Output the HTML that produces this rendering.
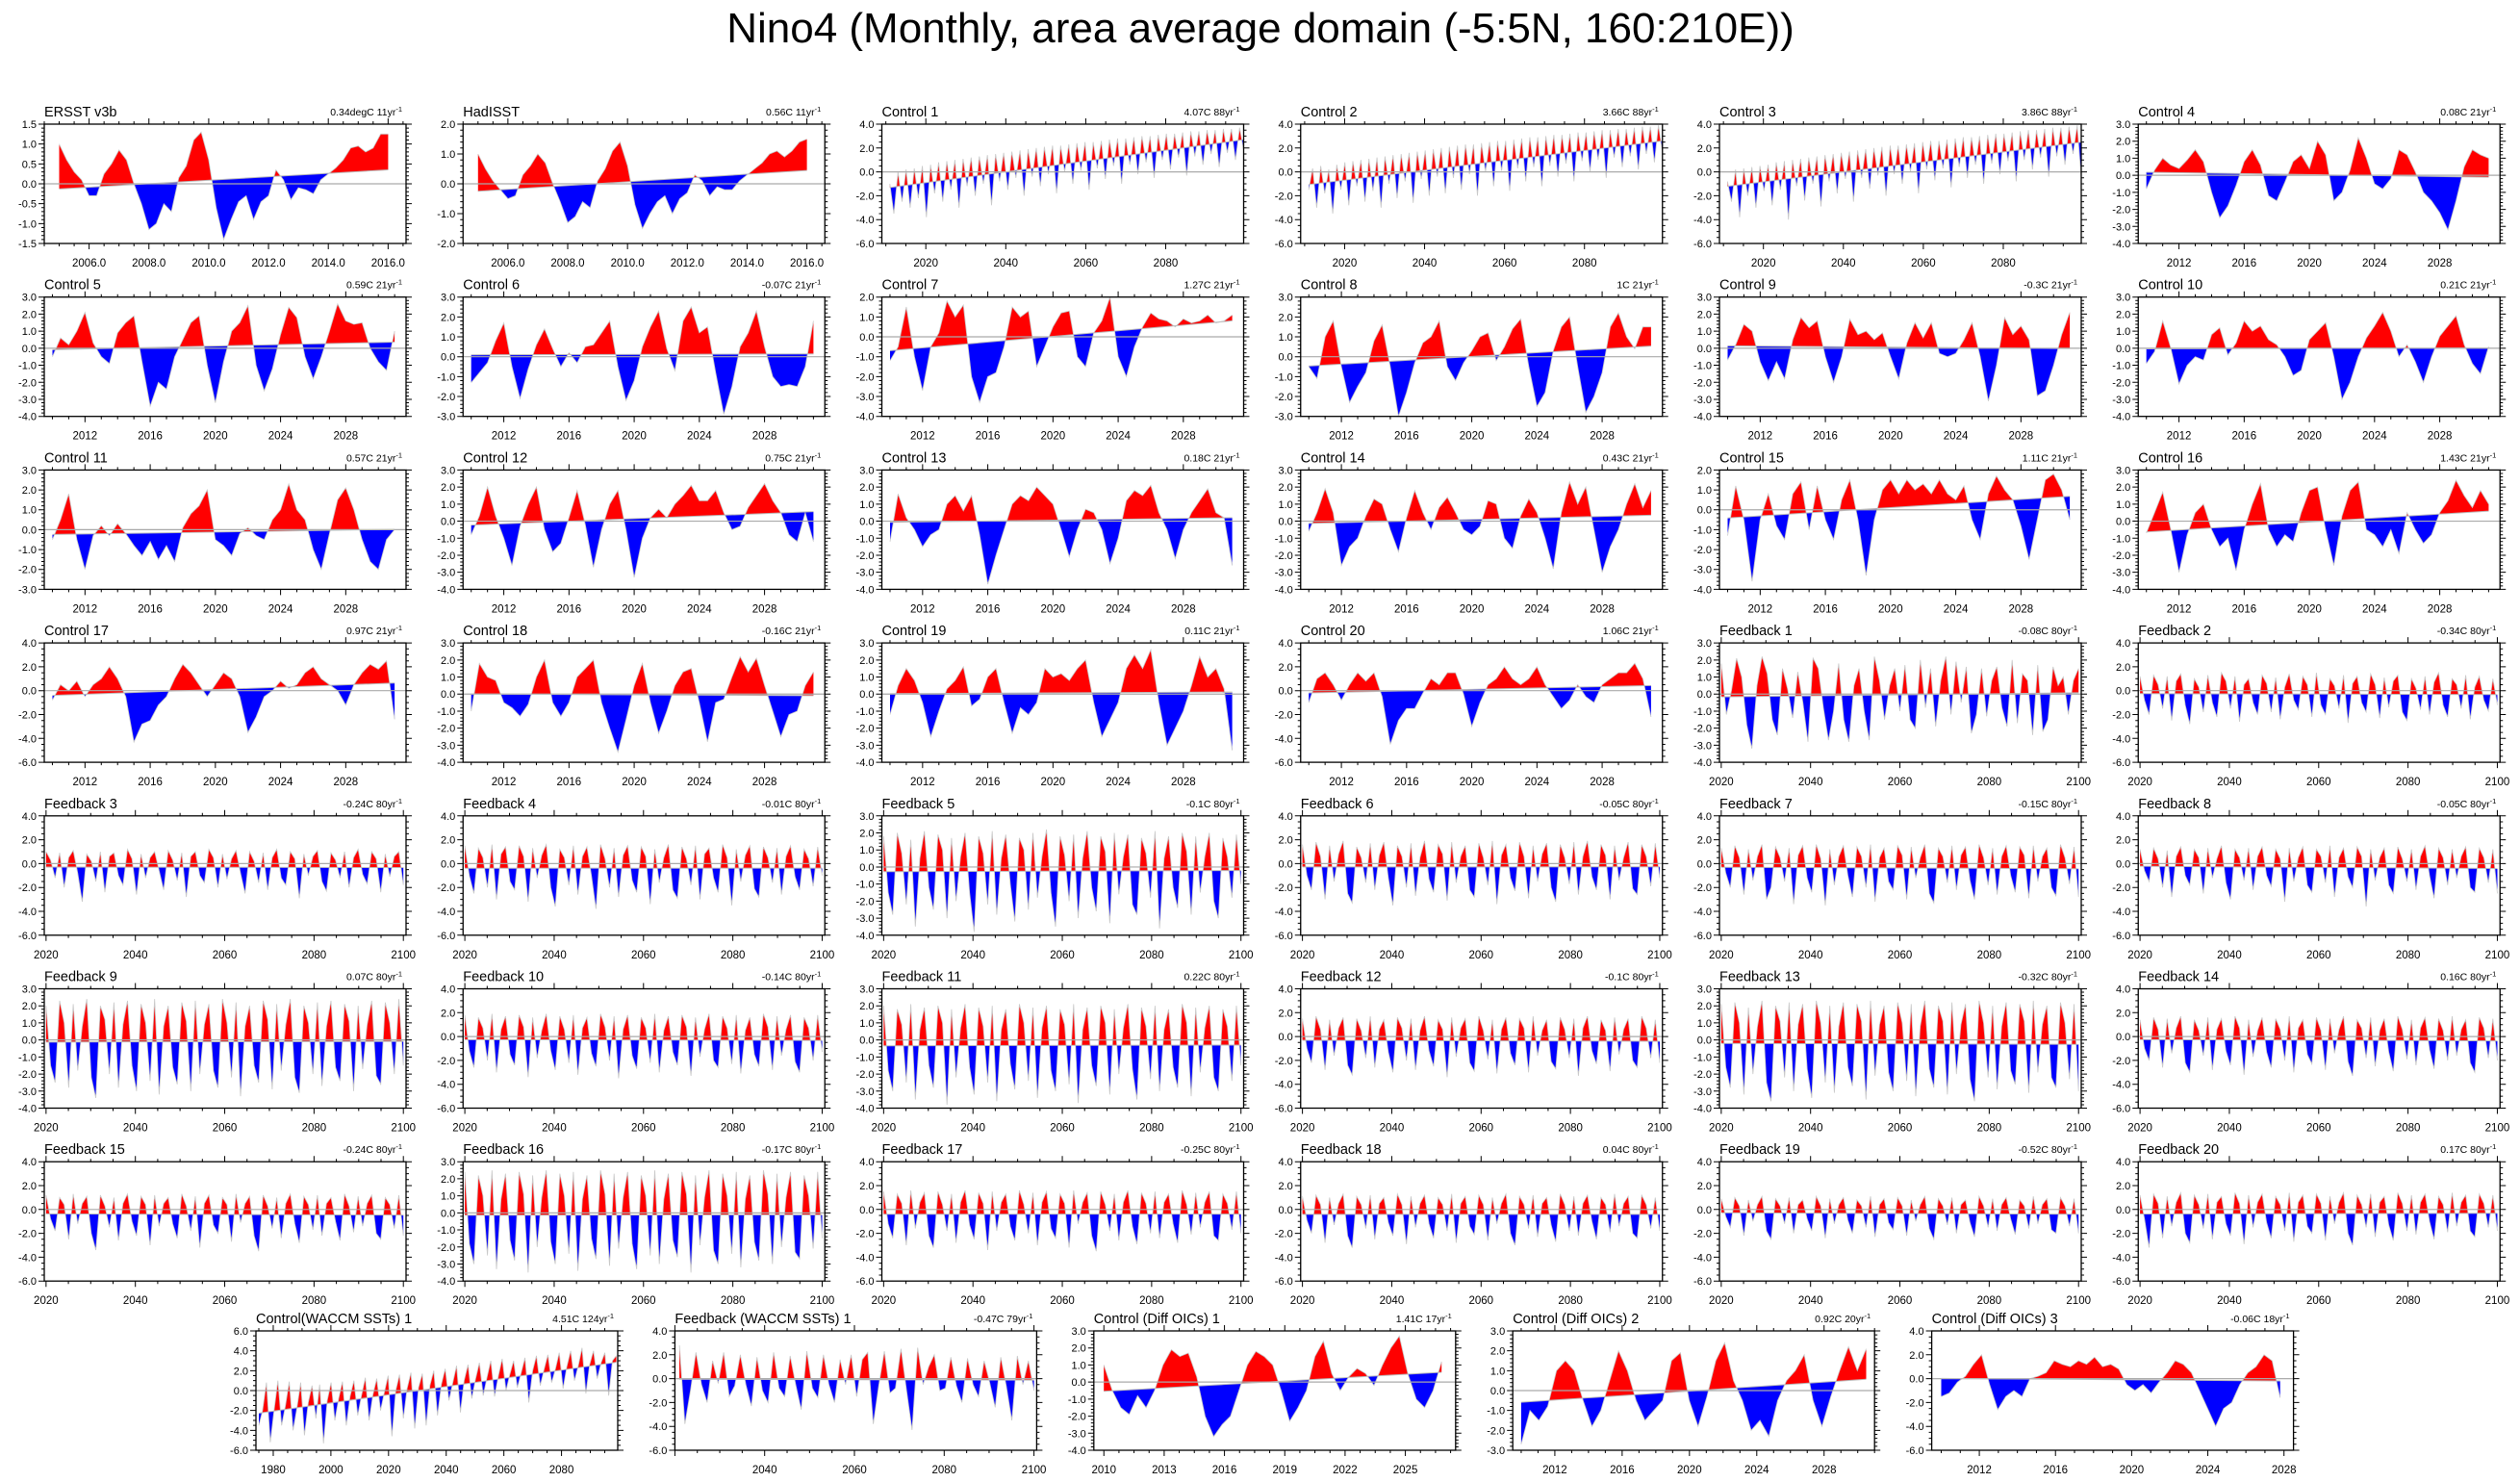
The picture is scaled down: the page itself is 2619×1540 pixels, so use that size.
<!DOCTYPE html>
<html><head><meta charset="utf-8"><title>Nino4</title>
<style>html,body{margin:0;padding:0;background:#fff}svg{display:block}text{font-family:"Liberation Sans",Arial,sans-serif}</style>
</head><body>
<svg id="chart" xmlns="http://www.w3.org/2000/svg" width="2619" height="1540" viewBox="0 0 2619 1540">
<rect width="2619" height="1540" fill="#fff"/>
<text x="1310" y="44" font-size="44" text-anchor="middle">Nino4 (Monthly, area average domain (-5:5N, 160:210E))</text>
<g id="panels"></g>
</svg>
<script>
const ersstValues=[1.0,0.6,0.3,0.1,-0.3,-0.3,0.25,0.5,0.85,0.6,0.0,-0.5,-1.15,-1.0,-0.5,-0.7,0.15,0.45,1.1,1.3,0.6,-0.6,-1.4,-0.9,-0.45,-0.3,-0.9,-0.45,-0.3,0.35,0.1,-0.4,-0.1,-0.15,-0.25,0.1,0.25,0.4,0.6,0.9,0.95,0.8,0.9,1.25,1.25];
const hadisstValues=[1.0,0.5,0.1,-0.2,-0.5,-0.4,0.3,0.6,1.0,0.7,0,-0.6,-1.3,-1.1,-0.6,-0.8,0.1,0.5,1.1,1.4,0.6,-0.7,-1.5,-1.0,-0.6,-0.4,-1.0,-0.5,-0.3,0.3,0.1,-0.4,-0.1,-0.2,-0.2,0.1,0.3,0.5,0.7,1.0,1.1,0.9,1.1,1.4,1.5];
const control1Values=[-1.0,-3.5,0.0,-2.5,0.2,-3.0,0.3,-2.2,0.5,-3.8,0.6,-1.8,0.8,-2.5,0.9,-1.5,1.0,-3.0,1.1,-1.2,1.2,-2.0,1.3,-1.0,1.4,-2.8,1.5,-0.8,1.6,-1.5,1.7,-0.5,1.8,-2.0,1.9,-0.4,2.0,-1.2,2.1,-0.2,2.2,-1.8,2.2,0.0,2.3,-1.0,2.4,0.1,2.5,-1.5,2.5,0.3,2.6,-0.6,2.7,0.5,2.8,-1.0,2.8,0.6,2.9,-0.2,3.0,0.8,3.0,-0.5,3.1,1.0,3.2,0.2,3.2,1.2,3.3,-0.3,3.4,1.3,3.4,0.6,3.5,1.5,3.5,0.4,3.6,1.6,3.6,1.0,3.7,1.8];
const control2Values=[-1.5,0.3,-3.0,0.5,-1.8,0.2,-3.5,0.6,-1.5,0.8,-2.8,0.9,-1.2,1.0,-2.5,1.1,-1.6,1.2,-3.0,1.3,-1.0,1.4,-2.2,1.5,-0.8,1.6,-2.6,1.7,-0.6,1.8,-2.0,1.9,-0.4,2.0,-1.8,2.1,-0.5,2.2,-1.5,2.3,-0.2,2.3,-2.0,2.4,0.0,2.5,-1.2,2.6,0.1,2.6,-1.6,2.7,0.3,2.8,-0.8,2.9,0.4,2.9,-1.2,3.0,0.5,3.1,-0.4,3.1,0.7,3.2,-0.8,3.3,0.9,3.3,0.0,3.4,1.0,3.5,-0.5,3.5,1.2,3.6,0.4,3.6,1.3,3.7,0.2,3.8,1.5,3.8,0.8,3.9,1.6];
const control3Values=[-0.8,-2.5,0.2,-3.8,0.3,-2.0,0.4,-3.0,0.5,-1.6,0.6,-2.8,0.8,-1.5,0.9,-4.0,1.0,-1.2,1.1,-2.4,1.2,-1.0,1.3,-2.9,1.4,-0.8,1.5,-1.8,1.6,-0.6,1.7,-2.5,1.8,-0.5,1.9,-1.4,2.0,-0.3,2.1,-2.0,2.2,-0.2,2.2,-1.0,2.3,0.0,2.4,-1.8,2.5,0.2,2.6,-0.7,2.6,0.3,2.7,-1.3,2.8,0.4,2.9,-0.5,2.9,0.6,3.0,-1.0,3.1,0.7,3.2,-0.2,3.2,0.9,3.3,-0.8,3.4,1.0,3.5,0.2,3.5,1.2,3.6,-0.4,3.7,1.3,3.7,0.6,3.8,1.5,3.9,-0.6];
const control4Values=[-0.8,0.3,1.0,0.6,0.4,0.9,1.5,0.8,-1.0,-2.5,-1.8,-0.6,0.8,1.5,0.6,-1.2,-1.5,-0.4,0.8,1.2,0.4,2.0,1.2,-1.5,-1.0,0.3,2.2,1.0,-0.5,-0.8,-0.2,1.5,1.2,0.2,-1.0,-1.5,-2.2,-3.2,-1.5,0.5,1.5,1.2,1.0];
const control5Values=[-0.5,0.6,0.2,1.0,2.1,0.3,-0.5,-0.9,0.9,1.5,1.9,-0.8,-3.4,-2.0,-2.4,-0.5,0.5,1.5,1.9,-1.0,-3.2,-0.8,1.0,1.5,2.5,-1.0,-2.5,-1.2,0.8,2.4,1.8,-0.5,-1.8,-0.5,1.0,2.6,1.6,1.4,1.5,0.0,-0.8,-1.3,1.0];
const control6Values=[-1.3,-0.8,-0.3,0.8,1.7,-0.5,-2.1,-0.6,0.6,1.4,0.4,-0.5,0.2,-0.3,0.5,0.6,1.2,1.8,-0.5,-2.2,-1.2,0.5,1.5,2.3,0.4,-0.7,1.8,2.5,1.2,1.5,-0.8,-2.9,-1.5,0.5,1.2,2.3,0.5,-1.0,-1.5,-1.4,-1.5,-0.5,1.8];
const control7Values=[-1.2,-0.5,1.5,-1.0,-2.7,-0.5,0.2,1.8,1.0,1.6,-2.0,-3.3,-2.0,-1.8,-0.5,1.5,1.0,1.3,-1.5,-0.5,0.5,1.2,1.3,-1.0,-1.5,0.2,0.8,2.0,-1.0,-2.0,-0.5,0.5,1.2,0.9,0.8,0.5,0.9,0.7,0.8,1.1,0.7,0.8,1.1];
const control8Values=[-0.5,-1.1,1.0,1.8,-0.5,-2.3,-1.5,-0.8,0.8,1.6,-0.5,-3.0,-1.8,-0.3,0.7,1.0,1.8,-0.5,-1.2,-0.3,0.3,1.0,1.2,-0.2,0.5,1.4,1.9,-0.5,-2.5,-1.8,0.3,1.5,2.0,-0.5,-2.8,-2.0,-0.8,1.5,2.2,1.0,0.4,1.5,1.5];
const control9Values=[-0.7,0.2,1.4,1.0,-0.8,-1.9,-0.8,-1.8,0.5,1.8,1.2,1.6,-0.5,-2.0,-0.5,1.7,0.8,1.0,0.5,0.9,-0.5,-1.8,0.3,1.5,0.6,1.5,-0.3,-0.5,-0.3,0.5,1.5,-0.5,-3.1,-1.0,1.8,0.8,1.3,0.5,-2.8,-2.5,-1.0,0.8,2.1];
const control10Values=[-0.9,-0.2,1.6,0.0,-2.1,-1.0,-0.5,-0.7,0.8,1.2,-0.4,0.3,1.6,1.0,1.3,0.5,0.2,-0.5,-1.6,-1.3,0.5,1.0,1.5,-0.5,-3.0,-2.0,-0.5,0.6,1.3,2.1,1.0,-0.5,0.2,-0.8,-2.0,-0.5,0.7,1.3,1.9,0.2,-0.9,-1.5,0.1];
const control11Values=[-0.5,0.5,1.8,-0.5,-2.0,-0.3,0.2,-0.3,0.3,-0.2,-0.8,-1.3,-0.6,-1.5,-0.8,-1.6,0.1,0.8,1.2,2.0,-0.5,-0.8,-1.3,-0.2,0.1,-0.3,-0.5,0.5,1.0,2.3,1.0,0.5,-1.0,-2.0,-0.2,1.5,2.1,1.0,-0.5,-1.6,-2.0,-0.5,0.0];
const control12Values=[-0.8,0.3,2.0,0.3,-1.0,-2.6,-0.3,1.0,2.0,-0.5,-1.8,-1.3,0.2,1.8,-0.2,-2.7,-0.5,1.0,1.8,-0.5,-3.3,-1.0,0.2,0.7,0.2,1.0,1.5,2.1,1.2,1.2,1.8,0.5,-0.5,-0.3,0.8,1.5,2.2,1.2,0.5,-0.8,-1.2,0.5,-1.2];
const control13Values=[-1.2,1.6,0.2,-0.5,-1.5,-0.8,-0.5,1.0,1.5,0.6,1.5,-0.8,-3.7,-2.0,-0.5,1.0,1.5,1.2,2.0,1.5,1.0,-0.5,-2.1,-0.5,0.7,0.5,-0.5,-2.5,-1.0,1.2,1.8,1.5,2.1,0.5,-0.5,-2.2,-0.5,0.5,1.2,1.9,0.5,0.2,-2.6];
const control14Values=[-0.6,0.5,1.9,0.5,-2.6,-1.5,-1.0,0.3,1.3,1.0,-0.5,-1.8,0.2,1.8,0.5,-0.5,0.8,1.4,0.5,-0.5,-0.8,-0.3,1.2,1.0,-1.0,-1.6,0.3,1.3,0.5,-1.0,-2.8,0.5,2.3,1.0,2.0,-0.5,-3.0,-1.5,-0.5,1.0,2.2,0.8,1.8];
const control15Values=[-1.3,1.2,-0.5,-3.6,-0.5,0.8,-0.8,-1.5,0.8,1.4,-1.0,1.2,-0.5,-1.5,0.5,1.5,-0.5,-3.3,-0.5,1.0,1.5,0.8,1.5,1.0,1.3,0.8,1.5,0.8,0.5,1.2,-0.5,-1.5,0.8,1.7,1.0,0.5,-0.8,-2.5,-0.5,1.5,1.8,1.0,-0.5];
const control16Values=[-0.7,0.5,1.7,-0.5,-3.0,-0.8,0.5,1.0,-0.5,-1.5,-1.0,-2.9,-0.5,1.0,2.2,-0.5,-1.5,-0.8,-1.2,0.5,1.8,2.0,-0.5,-2.6,0.3,1.8,2.3,-0.5,-0.8,-1.5,-0.5,-1.9,0.5,-0.5,-1.3,-0.8,0.5,1.2,2.4,1.5,0.8,1.8,1.0];
const control17Values=[-0.8,0.5,0.0,0.8,-0.5,0.5,1.0,2.0,1.0,-0.5,-4.3,-2.8,-2.5,-1.2,-0.5,1.0,2.2,1.5,0.5,-0.5,0.5,1.5,1.0,-0.5,-3.5,-2.2,-0.5,0.0,0.8,0.2,0.5,1.5,2.0,1.0,0.5,0.0,-1.2,0.5,1.5,2.2,1.8,2.5,-2.4];
const control18Values=[-1.0,1.8,1.0,0.8,-0.5,-0.8,-1.3,-0.6,1.0,2.0,-0.5,-1.3,-0.5,1.0,1.5,2.0,-0.5,-2.0,-3.4,-1.5,0.5,1.8,-0.5,-2.3,-1.0,0.5,1.3,1.5,-0.5,-2.8,-0.5,-0.3,1.0,2.2,1.3,2.1,0.5,-1.0,-2.5,-1.2,-1.0,0.5,1.3];
const control19Values=[-1.2,0.5,1.5,0.8,-0.5,-2.5,-1.0,0.3,0.8,1.6,-0.7,-0.3,1.0,1.5,-0.5,-2.3,-0.8,-1.2,-0.5,1.5,1.0,1.2,0.8,1.5,2.0,-0.5,-2.5,-1.5,-0.5,1.5,2.3,1.5,2.6,-0.5,-3.0,-2.0,-1.0,0.5,2.2,1.0,1.5,0.3,-3.3];
const control20Values=[-1.0,1.0,1.5,0.5,-0.8,0.5,1.5,0.8,1.5,-0.5,-4.5,-2.5,-1.5,-1.5,-0.2,1.0,0.5,1.5,1.5,-0.3,-3.0,-1.0,0.5,1.0,2.0,1.0,0.5,1.0,2.0,0.5,-0.5,-1.5,-0.8,0.5,-0.5,-1.0,0.5,1.0,1.5,1.5,2.3,1.0,-2.2];
const feedback1Values=[1.8,-1.2,0.2,2.1,1.0,-1.8,-3.2,0.5,2.2,1.2,-1.5,-2.4,1.5,0.3,-1.4,1.3,-0.5,-2.8,2.1,1.5,-0.8,-2.7,-1.0,1.8,-1.5,-2.8,0.5,1.5,-1.0,-2.7,2.2,0.8,-1.5,0.5,1.5,-1.0,1.7,-1.5,-2.0,2.0,-0.8,1.5,-1.9,0.8,2.2,-1.2,1.9,-0.5,1.6,-2.3,-1.2,1.5,-1.3,0.8,1.6,-0.8,-1.9,2.0,-1.7,1.2,0.8,-2.4,1.7,-2.2,-1.5,1.6,0.5,1.0,-1.2,0.8,1.5];
const feedback2Values=[1.2,-0.8,-2.0,1.3,0.5,-1.5,1.2,-2.5,0.8,1.4,-1.2,-2.8,1.0,0.3,-1.8,1.3,-1.0,-2.2,1.5,0.8,-1.5,1.2,-2.6,0.5,1.0,-1.0,-2.0,1.3,0.6,-1.8,1.1,-2.4,0.3,1.4,-0.8,-1.6,1.2,0.5,-2.2,1.5,-1.2,-2.0,1.0,0.4,-1.5,1.3,-2.7,0.6,1.2,-1.0,-1.8,1.4,0.5,-2.3,1.1,-1.4,0.8,1.3,-1.8,-2.5,1.0,0.2,-1.6,1.2,-2.0,0.7,1.5,-1.2,-2.2,1.0,0.5,-1.5,1.3,-2.4,0.3,1.2,-0.8,-1.7,1.0,-1.2];
const feedback3Values=[1.0,0.3,-1.2,0.9,-2.0,0.5,1.1,-0.8,-3.2,0.8,0.2,-1.5,1.0,-2.4,0.6,0.9,-1.0,-1.8,1.2,0.4,-2.6,0.8,-1.2,0.5,1.0,-0.6,-2.2,1.1,0.3,-1.4,0.9,-2.8,0.6,1.0,-1.0,-1.6,1.2,0.5,-2.0,0.8,-1.3,0.4,1.1,-0.8,-2.5,1.0,0.2,-1.6,0.9,-2.2,0.5,1.2,-1.2,-1.8,1.0,0.4,-2.9,0.8,-1.0,0.6,1.1,-1.5,-2.3,0.9,0.3,-1.2,1.0,-2.0,0.5,1.2,-0.9,-1.7,1.0,0.4,-2.4,0.8,-1.1,0.6,1.0,-1.8];
const feedback4Values=[1.5,-1.0,-2.5,1.3,0.5,-2.0,1.6,-3.0,0.8,1.4,-1.5,-2.2,1.5,0.6,-3.2,1.3,-1.2,0.7,1.6,-2.0,-3.6,1.2,0.5,-1.8,1.5,-2.6,0.6,1.4,-1.0,-3.8,1.6,0.4,-2.0,1.3,-2.8,0.7,1.5,-1.4,-2.4,1.4,0.6,-3.4,1.2,-1.6,0.5,1.6,-2.2,-2.9,1.4,0.4,-1.8,1.5,-3.0,0.8,1.3,-1.2,-2.4,1.6,0.5,-3.5,1.2,-1.5,0.7,1.5,-2.1,-2.8,1.4,0.5,-1.6,1.3,-2.6,0.6,1.5,-1.1,-2.2,1.2,0.4,-1.9,1.4,-1.0];
const feedback5Values=[1.8,-1.5,-2.8,2.0,0.8,-2.2,1.6,-3.5,0.5,2.1,-1.2,-2.5,1.9,1.0,-3.0,1.7,-2.0,0.6,2.0,-1.5,-3.8,1.8,0.8,-2.2,2.1,-2.8,0.5,1.9,-1.0,-3.2,1.7,1.0,-2.5,2.0,-1.8,0.6,2.2,-1.5,-3.5,1.8,0.7,-2.0,1.9,-3.0,0.5,2.1,-1.2,-2.6,1.8,0.9,-3.3,2.0,-1.6,0.6,1.9,-2.2,-2.8,1.7,0.8,-1.8,2.1,-3.6,0.5,1.8,-1.2,-2.4,2.0,0.9,-2.8,1.8,-1.5,0.6,2.0,-2.0,-3.0,1.7,0.6,-1.8,1.9,-1.0];
const feedback6Values=[1.6,-1.0,-2.2,1.8,0.6,-3.0,1.5,-1.5,0.8,1.9,-2.5,-3.3,1.4,0.5,-1.6,1.7,-2.2,0.7,1.8,-1.2,-3.5,1.5,0.6,-2.0,1.7,-2.7,0.5,1.9,-1.3,-2.4,1.6,0.8,-3.1,1.8,-1.6,0.6,1.5,-2.2,-2.8,1.7,0.5,-1.8,1.9,-3.4,0.7,1.6,-1.2,-2.3,1.8,0.6,-2.9,1.5,-1.5,0.8,1.7,-2.0,-3.2,1.6,0.5,-1.7,1.8,-2.6,0.6,1.9,-1.1,-2.2,1.6,0.7,-3.0,1.5,-1.4,0.5,1.8,-2.1,-2.6,1.6,0.6,-1.9,1.7,-1.2];
const feedback7Values=[1.3,-0.8,-2.0,1.5,0.5,-2.6,1.2,-1.4,0.6,1.6,-3.0,-2.0,1.4,0.5,-1.5,1.3,-3.4,0.7,1.5,-1.2,-2.4,1.6,0.4,-3.5,1.2,-1.8,0.6,1.5,-1.0,-2.8,1.4,0.6,-2.0,1.6,-3.2,0.5,1.3,-1.5,-2.2,1.5,0.7,-3.0,1.4,-1.2,0.5,1.6,-2.5,-3.3,1.3,0.6,-1.6,1.5,-2.2,0.7,1.4,-1.4,-3.0,1.6,0.5,-1.8,1.3,-2.6,0.6,1.5,-1.0,-2.4,1.4,0.7,-2.9,1.5,-1.5,0.6,1.3,-2.0,-2.7,1.6,0.5,-1.7,1.4,-2.8];
const feedback8Values=[1.2,-0.6,-1.5,1.3,0.4,-2.0,1.1,-2.8,0.6,1.4,-1.0,-1.8,1.2,0.5,-2.5,1.3,-1.2,0.4,1.5,-1.6,-3.0,1.2,0.5,-1.4,1.3,-2.2,0.6,1.4,-1.0,-1.9,1.2,0.4,-3.2,1.3,-1.5,0.5,1.4,-1.8,-2.4,1.2,0.6,-1.6,1.5,-2.8,0.5,1.3,-1.1,-2.0,1.4,0.6,-3.6,1.2,-1.4,0.5,1.3,-1.8,-2.5,1.4,0.4,-1.5,1.2,-2.2,0.6,1.5,-1.0,-2.9,1.3,0.5,-1.8,1.2,-1.2,0.6,1.4,-2.0,-2.4,1.3,0.5,-1.6,1.2,-2.5];
const feedback9Values=[2.0,-1.5,-2.5,2.3,1.0,-2.8,2.1,-1.8,0.8,2.4,-2.2,-3.4,2.0,1.2,-2.0,2.2,-2.8,0.9,2.3,-1.5,-3.0,2.1,1.0,-2.4,2.4,-3.2,0.8,2.0,-1.6,-2.6,2.2,1.1,-3.0,2.3,-2.0,0.9,2.1,-1.8,-2.8,2.4,1.0,-2.2,2.2,-3.3,0.8,2.0,-1.5,-2.5,2.3,1.2,-2.9,2.1,-1.8,0.9,2.4,-2.2,-3.1,2.0,1.0,-2.0,2.2,-2.7,0.8,2.3,-1.6,-2.4,2.1,1.1,-3.0,2.0,-1.7,0.9,2.3,-2.1,-2.6,2.2,1.0,-2.0,2.4,-1.5];
const feedback10Values=[1.8,-1.2,-2.6,1.6,0.7,-2.0,1.9,-3.0,0.6,1.7,-1.5,-2.4,1.8,0.8,-3.4,1.6,-1.8,0.5,1.9,-1.2,-2.8,1.7,0.6,-2.2,1.8,-3.2,0.7,1.6,-1.4,-2.5,1.9,0.8,-2.0,1.7,-3.5,0.6,1.8,-1.6,-2.7,1.6,0.7,-2.2,1.9,-3.0,0.5,1.7,-1.3,-2.4,1.8,0.8,-3.3,1.6,-1.7,0.6,1.9,-2.0,-2.6,1.7,0.7,-2.3,1.8,-3.1,0.5,1.6,-1.5,-2.5,1.9,0.8,-2.8,1.7,-1.6,0.6,1.8,-2.1,-3.0,1.6,0.7,-2.0,1.8,-1.3];
const feedback11Values=[2.0,-1.8,-3.0,1.8,0.9,-2.5,2.1,-3.5,0.6,1.9,-1.5,-2.8,2.0,1.0,-3.8,1.8,-2.2,0.7,2.1,-1.6,-3.2,1.9,0.8,-2.5,2.0,-3.6,0.6,1.8,-1.4,-2.9,2.1,1.0,-2.4,1.9,-3.4,0.7,2.0,-1.8,-3.0,1.8,0.9,-2.6,2.1,-3.7,0.6,1.9,-1.5,-2.7,2.0,1.0,-3.2,1.8,-2.0,0.7,2.1,-1.7,-3.5,1.9,0.8,-2.3,2.0,-3.0,0.6,1.8,-1.6,-2.8,2.1,1.0,-3.3,1.9,-1.9,0.7,2.0,-2.2,-3.0,1.8,0.8,-2.4,2.0,-1.5];
const feedback12Values=[1.5,-1.0,-2.2,1.7,0.6,-2.8,1.4,-1.6,0.7,1.6,-2.4,-3.2,1.5,0.5,-1.8,1.7,-2.6,0.6,1.4,-1.3,-3.0,1.6,0.7,-2.0,1.5,-2.8,0.5,1.7,-1.2,-2.5,1.4,0.6,-3.4,1.6,-1.7,0.7,1.5,-2.2,-2.9,1.7,0.5,-1.9,1.4,-3.1,0.6,1.6,-1.4,-2.4,1.5,0.7,-3.0,1.7,-1.6,0.5,1.4,-2.1,-2.7,1.6,0.6,-1.8,1.5,-3.3,0.7,1.7,-1.2,-2.3,1.4,0.5,-2.9,1.6,-1.5,0.6,1.5,-2.0,-2.6,1.7,0.7,-1.8,1.4,-2.2];
const feedback13Values=[2.1,-1.6,-2.8,2.2,1.0,-3.2,1.9,-2.0,0.8,2.3,-2.5,-3.6,2.0,1.1,-2.2,2.2,-3.0,0.9,2.1,-1.7,-3.4,2.3,1.0,-2.5,2.0,-3.1,0.8,2.2,-1.6,-2.7,2.1,1.1,-3.5,2.3,-2.1,0.9,2.0,-1.9,-3.0,2.2,1.0,-2.4,2.1,-3.3,0.8,2.3,-1.7,-2.8,2.0,1.1,-3.2,2.2,-2.0,0.9,2.1,-2.3,-3.6,2.3,1.0,-2.2,2.0,-2.9,0.8,2.2,-1.8,-2.6,2.1,1.1,-3.1,2.3,-1.9,0.9,2.0,-2.2,-2.8,2.2,1.0,-2.3,2.1,-3.0];
const feedback14Values=[1.4,-1.0,-2.0,1.6,0.6,-2.6,1.5,-1.4,0.7,1.7,-2.2,-3.0,1.4,0.5,-1.6,1.6,-2.8,0.6,1.5,-1.2,-2.4,1.7,0.7,-3.2,1.4,-1.7,0.5,1.6,-1.3,-2.6,1.5,0.6,-2.0,1.7,-3.0,0.7,1.4,-1.5,-2.3,1.6,0.5,-2.8,1.5,-1.4,0.6,1.7,-2.1,-3.3,1.4,0.7,-1.8,1.6,-2.5,0.5,1.5,-1.3,-2.9,1.7,0.6,-1.9,1.4,-2.4,0.7,1.6,-1.1,-2.7,1.5,0.5,-2.0,1.7,-1.6,0.6,1.4,-2.2,-3.0,1.6,0.7,-1.8,1.5,-2.0];
const feedback15Values=[1.2,-0.8,-1.8,1.0,0.4,-2.5,1.3,-1.2,0.5,1.1,-2.0,-3.4,1.2,0.3,-1.5,1.0,-2.6,0.5,1.3,-1.0,-2.2,1.1,0.4,-3.0,1.2,-1.4,0.5,1.0,-1.2,-2.4,1.3,0.3,-1.8,1.1,-3.2,0.5,1.2,-1.3,-2.0,1.0,0.4,-2.7,1.3,-1.1,0.5,1.1,-2.2,-3.5,1.2,0.3,-1.6,1.0,-2.4,0.5,1.3,-1.2,-2.8,1.1,0.4,-1.7,1.2,-2.2,0.5,1.0,-1.0,-2.6,1.3,0.3,-1.9,1.1,-1.4,0.5,1.2,-2.0,-2.5,1.0,0.4,-1.6,1.2,-2.2];
const feedback16Values=[2.4,-1.8,-3.0,2.2,1.0,-2.5,2.5,-3.3,0.8,2.3,-1.6,-2.8,2.4,1.1,-3.5,2.2,-2.0,0.9,2.5,-1.7,-3.0,2.3,1.0,-2.4,2.4,-3.4,0.8,2.2,-1.5,-2.7,2.5,1.1,-3.1,2.3,-2.1,0.9,2.4,-1.8,-3.3,2.2,1.0,-2.5,2.5,-3.0,0.8,2.3,-1.6,-2.6,2.4,1.1,-3.5,2.2,-1.9,0.9,2.5,-2.2,-3.0,2.3,1.0,-2.4,2.4,-3.2,0.8,2.2,-1.7,-2.8,2.5,1.1,-3.0,2.3,-2.0,0.9,2.4,-2.3,-2.7,2.2,1.0,-2.1,2.4,-1.5];
const feedback17Values=[1.5,-1.2,-2.4,1.3,0.5,-3.0,1.6,-1.6,0.6,1.4,-2.2,-3.2,1.5,0.4,-1.8,1.3,-2.8,0.6,1.6,-1.3,-2.5,1.4,0.5,-3.4,1.5,-1.8,0.6,1.3,-1.4,-2.6,1.6,0.4,-2.0,1.4,-3.0,0.6,1.5,-1.6,-2.4,1.3,0.5,-3.2,1.6,-1.2,0.6,1.4,-2.2,-3.5,1.5,0.4,-1.8,1.3,-2.6,0.6,1.6,-1.4,-2.9,1.4,0.5,-2.0,1.5,-2.4,0.6,1.3,-1.2,-2.8,1.6,0.4,-2.1,1.4,-1.5,0.6,1.5,-2.2,-2.6,1.3,0.5,-1.7,1.5,-2.0];
const feedback18Values=[1.1,-0.9,-2.0,1.2,0.4,-2.8,1.0,-1.3,0.5,1.3,-2.2,-3.2,1.1,0.4,-1.6,1.2,-2.5,0.5,1.0,-1.1,-2.2,1.3,0.4,-2.9,1.1,-1.5,0.5,1.2,-1.2,-2.4,1.0,0.4,-1.8,1.3,-2.8,0.5,1.1,-1.4,-2.1,1.2,0.4,-2.6,1.0,-1.2,0.5,1.3,-2.0,-3.0,1.1,0.4,-1.6,1.2,-2.3,0.5,1.0,-1.3,-2.7,1.3,0.4,-1.8,1.1,-2.2,0.5,1.2,-1.0,-2.5,1.0,0.4,-1.9,1.3,-1.4,0.5,1.1,-2.0,-2.4,1.2,0.4,-1.6,1.0,-1.8];
const feedback19Values=[0.9,-0.6,-1.5,1.0,0.3,-2.2,0.8,-1.0,0.4,1.1,-1.8,-2.5,0.9,0.3,-1.2,1.0,-2.0,0.4,0.8,-0.8,-1.8,1.1,0.3,-2.4,0.9,-1.2,0.4,1.0,-0.9,-2.0,0.8,0.3,-1.5,1.1,-2.3,0.4,0.9,-1.1,-1.7,1.0,0.3,-2.2,0.8,-1.0,0.4,1.1,-1.6,-2.5,0.9,0.3,-1.3,1.0,-2.0,0.4,0.8,-1.1,-2.3,1.1,0.3,-1.5,0.9,-1.8,0.4,1.0,-0.8,-2.1,0.8,0.3,-1.6,1.1,-1.2,0.4,0.9,-1.7,-2.0,1.0,0.3,-1.4,0.9,-2.0];
const feedback20Values=[1.2,-0.8,-3.2,1.3,0.5,-2.4,1.1,-1.4,0.6,1.4,-2.0,-2.8,1.2,0.4,-1.6,1.3,-2.5,0.6,1.1,-1.2,-2.2,1.4,0.5,-2.9,1.2,-1.5,0.6,1.3,-1.1,-2.4,1.1,0.4,-1.8,1.4,-2.7,0.6,1.2,-1.4,-2.0,1.3,0.5,-2.6,1.1,-1.2,0.6,1.4,-2.0,-3.0,1.2,0.4,-1.5,1.3,-2.3,0.6,1.1,-1.3,-2.6,1.4,0.5,-1.8,1.2,-2.1,0.6,1.3,-1.0,-2.5,1.1,0.4,-1.9,1.4,-1.4,0.6,1.2,-1.8,-2.3,1.3,0.5,-1.5,1.2,-1.8];
const waccmControlValues=[-3.5,-2.0,0.8,-5.2,-2.0,1.0,-3.5,-1.5,0.9,-4.0,-1.8,0.8,-4.5,-1.2,0.5,-2.8,0.6,-5.3,-1.0,0.8,-3.0,-0.8,0.9,-3.5,-0.6,1.0,-2.5,-0.5,1.3,-3.0,-0.4,1.2,-2.0,-0.2,1.5,-4.6,0.0,1.6,-2.8,0.2,1.8,-3.8,0.3,1.7,-3.5,0.5,2.0,-2.5,0.6,2.2,-1.0,0.8,2.5,-2.2,1.0,2.6,-0.8,1.2,2.8,-0.5,1.3,3.0,-0.6,1.5,3.2,0.0,1.6,3.0,0.3,1.8,3.3,-1.2,2.0,3.5,0.5,2.1,3.6,0.8,2.2,3.8,0.2,2.4,4.0,1.0,2.5,4.3,-0.3,2.6,4.0,1.2,2.8,3.8,-0.5,3.0,3.5];
const waccmFeedbackValues=[2.8,-3.8,-1.0,2.2,-0.5,-2.0,1.5,-0.4,2.2,-1.5,-0.6,2.0,-0.5,-2.3,1.8,-1.0,-2.0,2.2,-0.8,-1.5,1.9,-0.5,-2.6,2.3,-0.8,-1.6,2.0,-0.5,-2.0,1.6,-0.5,2.0,-1.5,1.6,2.2,-3.8,-0.5,2.3,-1.2,-0.8,2.5,-1.0,-4.3,2.6,-0.5,1.0,2.0,-1.0,-0.8,1.8,-0.6,-2.0,1.7,-0.5,-1.5,1.5,-0.3,-2.4,1.8,-0.6,-3.5,1.9,-0.5,1.5,-1.0];
const diffOic1Values=[1.0,-0.5,-1.5,-1.9,-0.8,-1.5,-0.5,1.0,1.9,1.5,1.7,0.3,-2.0,-3.2,-2.5,-2.0,-0.5,1.0,1.8,1.5,1.0,-0.5,-2.3,-1.5,-0.5,1.5,2.4,0.5,-0.5,0.3,0.8,0.5,-0.2,1.0,2.0,2.7,0.5,-1.0,-1.5,-0.5,1.2];
const diffOic2Values=[-2.7,-1.0,-1.5,-0.8,1.0,1.5,1.0,-0.5,-1.8,-1.0,0.5,2.0,1.0,-0.5,-1.5,-1.0,-0.5,1.5,1.9,-0.5,-1.8,-0.3,1.5,2.4,0.5,-0.5,-2.0,-1.5,-2.3,-0.5,0.5,1.0,1.8,-0.5,-1.8,-0.3,1.0,2.2,1.0,2.1];
const diffOic3Values=[-1.5,-1.2,-0.3,0.2,1.2,2.0,-0.5,-2.6,-1.5,-1.0,-1.5,0.0,0.2,0.5,1.5,1.2,1.0,1.5,1.2,1.8,1.0,1.2,0.8,-0.5,-1.0,-0.5,-1.2,-0.3,0.5,1.5,1.2,0.5,-1.0,-2.5,-4.0,-2.5,-2.0,-0.5,0.5,1.0,2.0,1.5,-1.6];

const panelTitles=["ERSST v3b","HadISST","Control 1","Control 2","Control 3","Control 4","Control 5","Control 6","Control 7","Control 8","Control 9","Control 10","Control 11","Control 12","Control 13","Control 14","Control 15","Control 16","Control 17","Control 18","Control 19","Control 20","Feedback 1","Feedback 2","Feedback 3","Feedback 4","Feedback 5","Feedback 6","Feedback 7","Feedback 8","Feedback 9","Feedback 10","Feedback 11","Feedback 12","Feedback 13","Feedback 14","Feedback 15","Feedback 16","Feedback 17","Feedback 18","Feedback 19","Feedback 20","Control(WACCM SSTs) 1","Feedback (WACCM SSTs) 1","Control (Diff OICs) 1","Control (Diff OICs) 2","Control (Diff OICs) 3"];
const trendLabels=["0.34degC 11yr","0.56C 11yr","4.07C 88yr","3.66C 88yr","3.86C 88yr","0.08C 21yr","0.59C 21yr","-0.07C 21yr","1.27C 21yr","1C 21yr","-0.3C 21yr","0.21C 21yr","0.57C 21yr","0.75C 21yr","0.18C 21yr","0.43C 21yr","1.11C 21yr","1.43C 21yr","0.97C 21yr","-0.16C 21yr","0.11C 21yr","1.06C 21yr","-0.08C 80yr","-0.34C 80yr","-0.24C 80yr","-0.01C 80yr","-0.1C 80yr","-0.05C 80yr","-0.15C 80yr","-0.05C 80yr","0.07C 80yr","-0.14C 80yr","0.22C 80yr","-0.1C 80yr","-0.32C 80yr","0.16C 80yr","-0.24C 80yr","-0.17C 80yr","-0.25C 80yr","0.04C 80yr","-0.52C 80yr","0.17C 80yr","4.51C 124yr","-0.47C 79yr","1.41C 17yr","0.92C 20yr","-0.06C 18yr"];
const panelSeries=[ersstValues,hadisstValues,control1Values,control2Values,control3Values,control4Values,control5Values,control6Values,control7Values,control8Values,control9Values,control10Values,control11Values,control12Values,control13Values,control14Values,control15Values,control16Values,control17Values,control18Values,control19Values,control20Values,feedback1Values,feedback2Values,feedback3Values,feedback4Values,feedback5Values,feedback6Values,feedback7Values,feedback8Values,feedback9Values,feedback10Values,feedback11Values,feedback12Values,feedback13Values,feedback14Values,feedback15Values,feedback16Values,feedback17Values,feedback18Values,feedback19Values,feedback20Values,waccmControlValues,waccmFeedbackValues,diffOic1Values,diffOic2Values,diffOic3Values];
const Y15=[-1.5,1.5,0.5],Y2=[-2,2,1],Y46=[-6,4,2],Y34=[-4,3,1],Y33=[-3,3,1],Y24=[-4,2,1],Y66=[-6,6,2];
const yRanges=[Y15,Y2,Y46,Y46,Y46,Y34, Y34,Y33,Y24,Y33,Y34,Y34, Y33,Y34,Y34,Y34,Y24,Y34, Y46,Y34,Y34,Y46,Y34,Y46, Y46,Y46,Y34,Y46,Y46,Y46, Y34,Y46,Y34,Y46,Y34,Y46, Y46,Y34,Y46,Y46,Y46,Y46, Y66,Y46,Y34,Y33,Y46];
const TE={d:[2005,2016],a:[2004.5,2016.6],t:[2006,2,2016],f:1};
const TL={d:[2011,2099.5],a:[2009,2099.5],t:[2020,20,2080],f:0};
const TC={d:[2010,2031],a:[2009.5,2031.7],t:[2012,4,2028],f:0};
const TF={d:[2020,2100],a:[2019.6,2100.6],t:[2020,20,2100],f:0};
const timeAxes=[TE,TE,TL,TL,TL,TC, TC,TC,TC,TC,TC,TC, TC,TC,TC,TC,TC,TC, TC,TC,TC,TC,TF,TF, TF,TF,TF,TF,TF,TF, TF,TF,TF,TF,TF,TF, TF,TF,TF,TF,TF,TF,
 {d:[1975,2099],a:[1974,2099.5],t:[1980,20,2080],f:0},
 {d:[2021,2100],a:[2020,2100.6],t:[2040,20,2100],f:0},
 {d:[2010,2026.8],a:[2009.5,2027.5],t:[2010,3,2025],f:0},
 {d:[2010,2030.5],a:[2009.5,2031],t:[2012,4,2028],f:0},
 {d:[2010,2027.8],a:[2009.5,2028.5],t:[2012,4,2028],f:0}];

const NS="http://www.w3.org/2000/svg";
const root=document.getElementById('panels');
function mk(tag,attrs,parent){const e=document.createElementNS(NS,tag);for(const k in attrs)e.setAttribute(k,attrs[k]);(parent||root).appendChild(e);return e;}

function drawPanel(i,L,T,W,H){
  const vals=panelSeries[i],yr=yRanges[i],ta=timeAxes[i];
  const g=mk('g',{});
  
  
  const sx=t=>L+(t-ta.a[0])/(ta.a[1]-ta.a[0])*W;
  const sy=v=>T+H-(v-yr[0])/(yr[1]-yr[0])*H;
  const n=vals.length, tt=vals.map((v,k)=>ta.d[0]+(ta.d[1]-ta.d[0])*k/(n-1));
  let mt=0,mv=0;for(let k=0;k<n;k++){mt+=tt[k];mv+=vals[k];}mt/=n;mv/=n;
  let num=0,den=0;for(let k=0;k<n;k++){num+=(tt[k]-mt)*(vals[k]-mv);den+=(tt[k]-mt)*(tt[k]-mt);}
  const b=num/den,a=mv-b*mt,tr=t=>a+b*t;
  const x0=sx(ta.d[0]),x1=sx(ta.d[1]),ty0=sy(tr(ta.d[0])),ty1=sy(tr(ta.d[1]));
  const cid='clip'+i;
  const defs=mk('defs',{},g);
  const cu=mk('clipPath',{id:cid+'u'},defs);mk('polygon',{points:`${x0-1},${T-50} ${x1+1},${T-50} ${x1+1},${ty1} ${x0-1},${ty0}`},cu);
  const cd=mk('clipPath',{id:cid+'d'},defs);mk('polygon',{points:`${x0-1},${T+H+50} ${x1+1},${T+H+50} ${x1+1},${ty1} ${x0-1},${ty0}`},cd);
  const curve=tt.map((t,k)=>sx(t).toFixed(1)+','+sy(vals[k]).toFixed(1));
  const poly=curve.join(' ')+` ${x1.toFixed(1)},${ty1.toFixed(1)} ${x0.toFixed(1)},${ty0.toFixed(1)}`;
  const pr=mk('polygon',{points:poly,fill:'#ff0000','clip-path':`url(#${cid}u)`},g);
  
  
  const pb=mk('polygon',{points:poly,fill:'#0000ff','clip-path':`url(#${cid}d)`},g);
  
  
  const ln=mk('polyline',{points:curve.join(' '),fill:'none',stroke:'#c8c8c8','stroke-width':0.8},g);
  
  
  const zl=mk('line',{x1:L,x2:L+W,y1:sy(0),y2:sy(0),stroke:'#aaaaaa','stroke-width':1.2},g);
  
  
  const tl=mk('line',{x1:x0,x2:x1,y1:ty0,y2:ty1,stroke:'#bbbbbb','stroke-width':1},g);
  
  
  const box=mk('rect',{x:L,y:T,width:W,height:H,fill:'none',stroke:'#000','stroke-width':1.3},g);
  
  
  let path='';
  const ymin=yr[2]<=1?yr[2]/5:yr[2]/4;
  for(let v=yr[0];v<=yr[1]+1e-9;v+=ymin){const y=sy(v);const major=Math.abs(Math.round((v-yr[0])/yr[2])*yr[2]-(v-yr[0]))<1e-6;const len=major?6:3;path+=`M${L},${y}h${-len}M${L+W},${y}h${len}`;}
  const xs=ta.t[1]/4;
  for(let t=Math.ceil(ta.a[0]/xs)*xs;t<=ta.a[1]+1e-9;t+=xs){const x=sx(t);const major=Math.abs(((t-ta.t[0])/ta.t[1])-Math.round((t-ta.t[0])/ta.t[1]))<1e-6;const len=major?6:3;path+=`M${x},${T+H}v${len}M${x},${T}v${-len}`;}
  const tk=mk('path',{d:path,stroke:'#000','stroke-width':1,fill:'none'},g);
  
  
  for(let v=yr[0];v<=yr[1]+1e-9;v+=yr[2]){
    const e=mk('text',{x:L-8,y:sy(v)+4,'font-size':11,'text-anchor':'end'},g);e.textContent=v.toFixed(1);
    
    
  }
  for(let t=ta.t[0];t<=ta.t[2]+1e-9;t+=ta.t[1]){
    const e=mk('text',{x:sx(t),y:T+H+24,'font-size':11.5,'text-anchor':'middle'},g);e.textContent=t.toFixed(ta.f);
    
    
  }
  const ti=mk('text',{x:L,y:T-8,'font-size':14.5},g);ti.textContent=panelTitles[i];
  
  
  const rt=mk('text',{x:L+W-4,y:T-9,'font-size':10.5,'text-anchor':'end'},g);rt.textContent=trendLabels[i];
  
  
  const sup=mk('tspan',{dy:-4,'font-size':7.5},rt);sup.textContent='-1';
}
const W=376,H=124;
for(let i=0;i<42;i++){
  const c=i%6,r=Math.floor(i/6);
  const R=422+c*435.25;
  drawPanel(i,R-W,129+r*179.7,W,H);
}
for(let k=0;k<5;k++){
  const R=642+k*435.4;
  drawPanel(42+k,R-W,1383,W,H);
}
</script>
</body></html>
